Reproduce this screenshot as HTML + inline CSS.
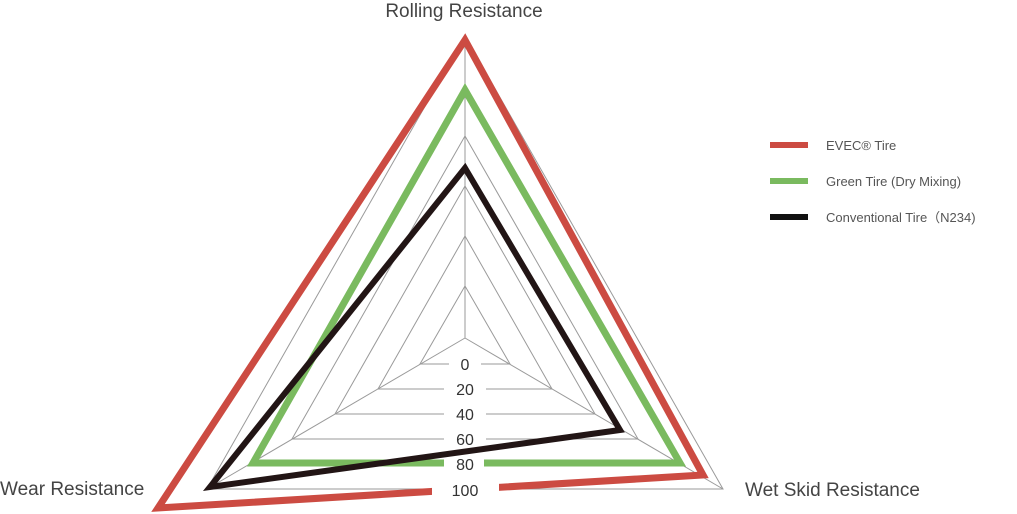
<!DOCTYPE html>
<html><head><meta charset="utf-8"><style>body{margin:0;background:#fff}svg{display:block}</style></head><body>
<svg width="1017" height="514" viewBox="0 0 1017 514" xmlns="http://www.w3.org/2000/svg" font-family="Liberation Sans, sans-serif">
<g fill="none" stroke="#9a9a9a" stroke-width="1">
<polygon points="465,286 510,364 420,364"/>
<polygon points="465,236 552,389 378,389"/>
<polygon points="465,186 595,414 335,414"/>
<polygon points="465,136 638,439 292,439"/>
<polygon points="465,86 680,464 250,464"/>
<polygon points="465,36 723,489 207,489"/>
<line x1="465" y1="338" x2="465" y2="36"/>
<line x1="465" y1="338" x2="723" y2="489"/>
<line x1="465" y1="338" x2="207" y2="489"/>
</g>
<g fill="#fff">
<rect x="449" y="354" width="32" height="20"/>
<rect x="444" y="379" width="42" height="20"/>
<rect x="444" y="404" width="42" height="20"/>
<rect x="444" y="429" width="42" height="20"/>
</g>
<polygon points="465,90 680,463 253,463" fill="none" stroke="#7aba5f" stroke-width="7"/>
<polygon points="465,40 703,475 158,508" fill="none" stroke="#cc4b42" stroke-width="7"/>
<g fill="#fff">
<rect x="444" y="454" width="40" height="20"/>
<rect x="432" y="479" width="67" height="24"/>
</g>
<g fill="#333" font-size="16" text-anchor="middle">
<text x="465" y="370">0</text>
<text x="465" y="395">20</text>
<text x="465" y="420">40</text>
<text x="465" y="445">60</text>
<text x="465" y="470">80</text>
<text x="465" y="496">100</text>
</g>
<polygon points="465,168 620,430 210,487" fill="none" stroke="#221515" stroke-width="6"/>
<g fill="#444" font-size="19">
<text x="464" y="17" text-anchor="middle">Rolling Resistance</text>
<text x="0" y="495">Wear Resistance</text>
<text x="745" y="496">Wet Skid Resistance</text>
</g>
<line x1="770" y1="145" x2="808" y2="145" stroke="#cc4b42" stroke-width="6"/>
<line x1="770" y1="181" x2="808" y2="181" stroke="#7aba5f" stroke-width="6"/>
<line x1="770" y1="217" x2="808" y2="217" stroke="#111" stroke-width="6"/>
<g fill="#555" font-size="13">
<text x="826" y="150">EVEC® Tire</text>
<text x="826" y="186">Green Tire (Dry Mixing)</text>
<text x="826" y="222">Conventional Tire（N234)</text>
</g>
</svg>
</body></html>
